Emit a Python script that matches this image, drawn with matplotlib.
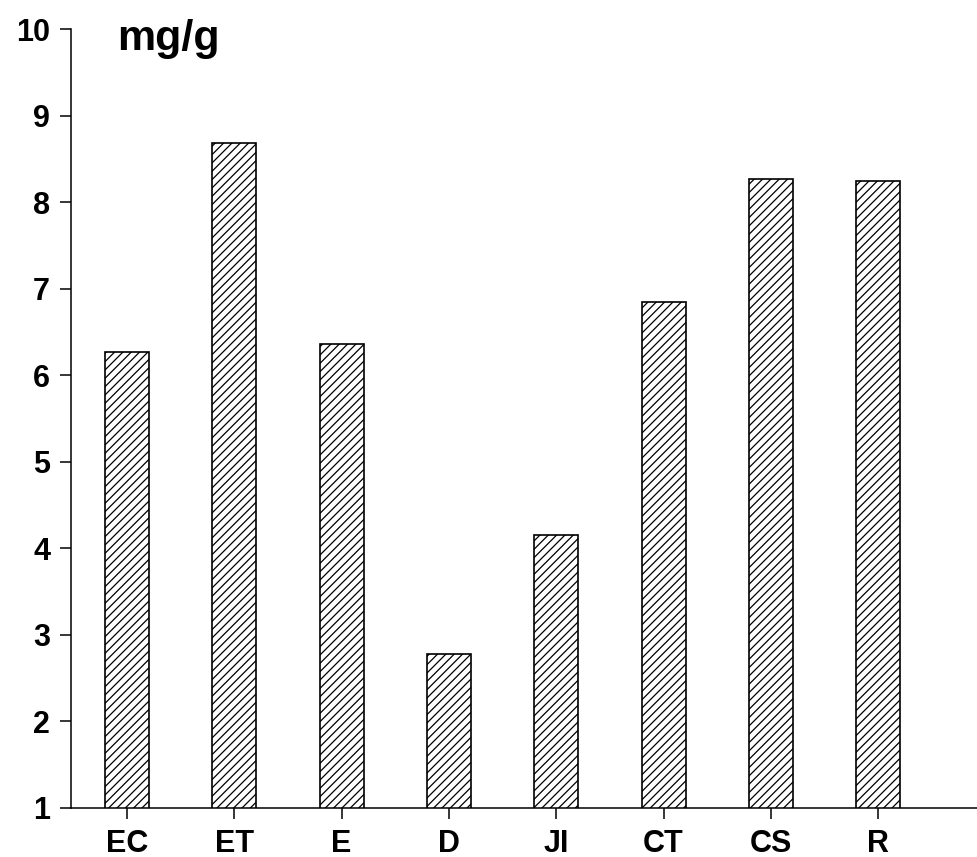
import matplotlib
matplotlib.use("Agg")
import matplotlib.pyplot as plt

plt.rcParams["font.family"] = ["Liberation Sans", "DejaVu Sans"]
plt.rcParams["hatch.linewidth"] = 0.9
plt.rcParams["hatch.color"] = "#222222"

categories = ["EC", "ET", "E", "D", "JI", "CT", "CS", "R"]
values = [6.27, 8.68, 6.36, 2.78, 4.15, 6.85, 8.27, 8.25]
y_ticks = [1, 2, 3, 4, 5, 6, 7, 8, 9, 10]

fig = plt.figure(figsize=(9.77, 8.57), dpi=100)
ax = fig.add_axes([0.0727, 0.0572, 0.9273, 0.9088])

x = range(len(categories))
ax.bar(x, values, width=0.41, color="white", edgecolor="black",
       linewidth=1.2, hatch="////")

ax.set_xlim(-0.52, 7.92)
ax.set_ylim(1, 10)
ax.set_yticks(y_ticks)
ax.set_xticks(list(x))
ax.set_xticklabels(categories)

for side in ["top", "right"]:
    ax.spines[side].set_visible(False)
for side in ["left", "bottom"]:
    ax.spines[side].set_linewidth(1.1)

ax.tick_params(axis="both", direction="out", length=8, width=1.1,
               labelsize=22, pad=7)
for lbl in ax.get_xticklabels() + ax.get_yticklabels():
    lbl.set_fontweight("bold")

ax.text(0.12, 0.955, "mg/g", transform=fig.transFigure, fontsize=31,
        fontweight="bold", ha="left", va="center")

fig.savefig("out.png", dpi=100)
